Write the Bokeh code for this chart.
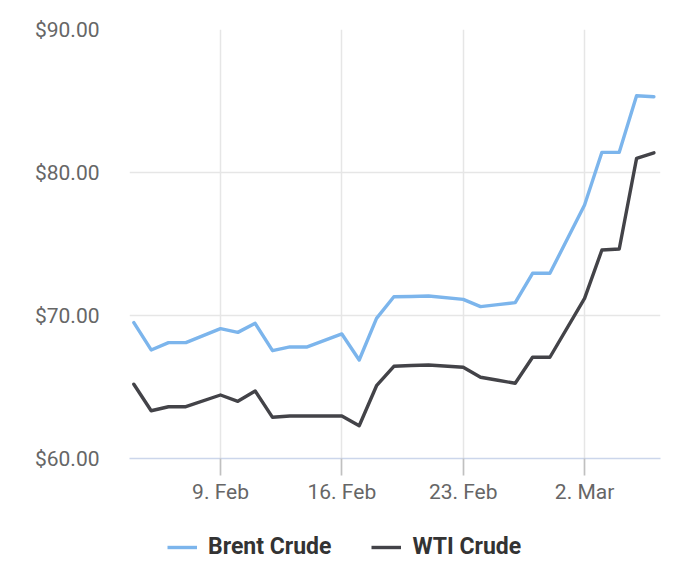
import pandas as pd
from bokeh.plotting import figure
from bokeh.layouts import column
from bokeh.models import Range1d, FixedTicker, NumeralTickFormatter, Legend, LegendItem
from bokeh.embed import file_html
from bokeh.resources import INLINE

# ---- data ----
dates = ["2026-02-04", "2026-02-05", "2026-02-06", "2026-02-07", "2026-02-09",
         "2026-02-10", "2026-02-11", "2026-02-12", "2026-02-13", "2026-02-14",
         "2026-02-16", "2026-02-17", "2026-02-18", "2026-02-19", "2026-02-20",
         "2026-02-21", "2026-02-23", "2026-02-24", "2026-02-25", "2026-02-26",
         "2026-02-27", "2026-02-28", "2026-03-02", "2026-03-03", "2026-03-04",
         "2026-03-05", "2026-03-06"]
brent = [69.50, 67.59, 68.10, 68.10, 69.08,
         68.82, 69.45, 67.54, 67.80, 67.80,
         68.71, 66.89, 69.80, 71.31, 71.33,
         71.36, 71.13, 70.62, 70.76, 70.90,
         72.95, 72.95, 77.73, 81.41, 81.41,
         85.37, 85.30]
wti = [65.19, 63.34, 63.62, 63.62, 64.44,
       64.00, 64.72, 62.88, 62.97, 62.97,
       62.97, 62.29, 65.09, 66.45, 66.50,
       66.54, 66.38, 65.68, 65.47, 65.26,
       67.08, 67.08, 71.20, 74.58, 74.65,
       80.99, 81.38]
series_names = ["Brent Crude", "WTI Crude"]
series_colors = ["#7cb5ec", "#434348"]
tick_dates = ["2026-02-09", "2026-02-16", "2026-02-23", "2026-03-02"]
tick_labels = ["9. Feb", "16. Feb", "23. Feb", "2. Mar"]
y_ticks = [60, 70, 80, 90]

DAY = 86400000.0
LW = 3.4
NAN = float("nan")


def ms(d):
    return float(pd.Timestamp(d).value // 10**6)


x = pd.to_datetime(dates)

p = figure(width=692, height=510, x_axis_type="datetime",
           output_backend="svg", toolbar_location=None,
           min_border_left=129, min_border_right=32,
           min_border_top=29, min_border_bottom=52)
p.outline_line_alpha = 0

p.x_range = Range1d(ms(dates[0]) - 0.25 * DAY, ms(dates[-1]) + 0.38 * DAY)
p.y_range = Range1d(y_ticks[0], y_ticks[-1])

p.line(x, brent, line_color=series_colors[0], line_width=LW,
       line_join="round", line_cap="round")
p.line(x, wti, line_color=series_colors[1], line_width=LW,
       line_join="round", line_cap="round")

# x axis
xt = [ms(d) for d in tick_dates]
p.xaxis.ticker = FixedTicker(ticks=xt)
p.xaxis.major_label_overrides = {t: l for t, l in zip(xt, tick_labels)}
p.xaxis.axis_line_color = "#ccd6eb"
p.xaxis.axis_line_width = 1.7
p.xaxis.major_tick_line_color = "#c0c0c0"
p.xaxis.major_tick_line_width = 1.7
p.xaxis.major_tick_out = 17
p.xaxis.major_tick_in = 0
p.xaxis.minor_tick_line_alpha = 0
p.xaxis.major_label_standoff = 4
p.xaxis.major_label_text_font = "Roboto"
p.xaxis.major_label_text_font_size = "21px"
p.xaxis.major_label_text_color = "#666666"

# y axis
p.yaxis.ticker = FixedTicker(ticks=y_ticks)
p.yaxis.formatter = NumeralTickFormatter(format="$0.00")
p.yaxis.axis_line_alpha = 0
p.yaxis.major_tick_line_alpha = 0
p.yaxis.minor_tick_line_alpha = 0
p.yaxis.major_tick_out = 0
p.yaxis.major_tick_in = 0
p.yaxis.major_label_standoff = 30
p.yaxis.major_label_text_font = "Roboto"
p.yaxis.major_label_text_font_size = "21px"
p.yaxis.major_label_text_color = "#666666"

# grids
p.xgrid.grid_line_color = "#e6e6e6"
p.xgrid.grid_line_width = 1.5
p.ygrid.grid_line_color = "#e6e6e6"
p.ygrid.grid_line_width = 1.5

# ---- legend strip below the chart ----
lg = figure(width=692, height=52, output_backend="svg", toolbar_location=None,
            x_axis_location=None, y_axis_location=None,
            min_border=0, x_range=Range1d(0, 1), y_range=Range1d(0, 1))
lg.outline_line_alpha = 0
lg.grid.visible = False
k1 = lg.line([NAN, NAN], [NAN, NAN], line_color=series_colors[0],
             line_width=LW, line_cap="butt")
k2 = lg.line([NAN, NAN], [NAN, NAN], line_color=series_colors[1],
             line_width=LW, line_cap="butt")

legend = Legend(
    items=[LegendItem(label=series_names[0], renderers=[k1]),
           LegendItem(label=series_names[1], renderers=[k2])],
    orientation="horizontal", location=(38, 2),
    padding=0, margin=0, spacing=40,
    glyph_width=30, glyph_height=20, label_standoff=11,
    label_text_font="Roboto", label_text_font_style="bold",
    label_text_font_size="23px", label_text_color="#333333",
    border_line_alpha=0, background_fill_alpha=0)
lg.add_layout(legend)

page = column(p, lg, spacing=0)
open("out.html", "w").write(file_html(page, INLINE))
